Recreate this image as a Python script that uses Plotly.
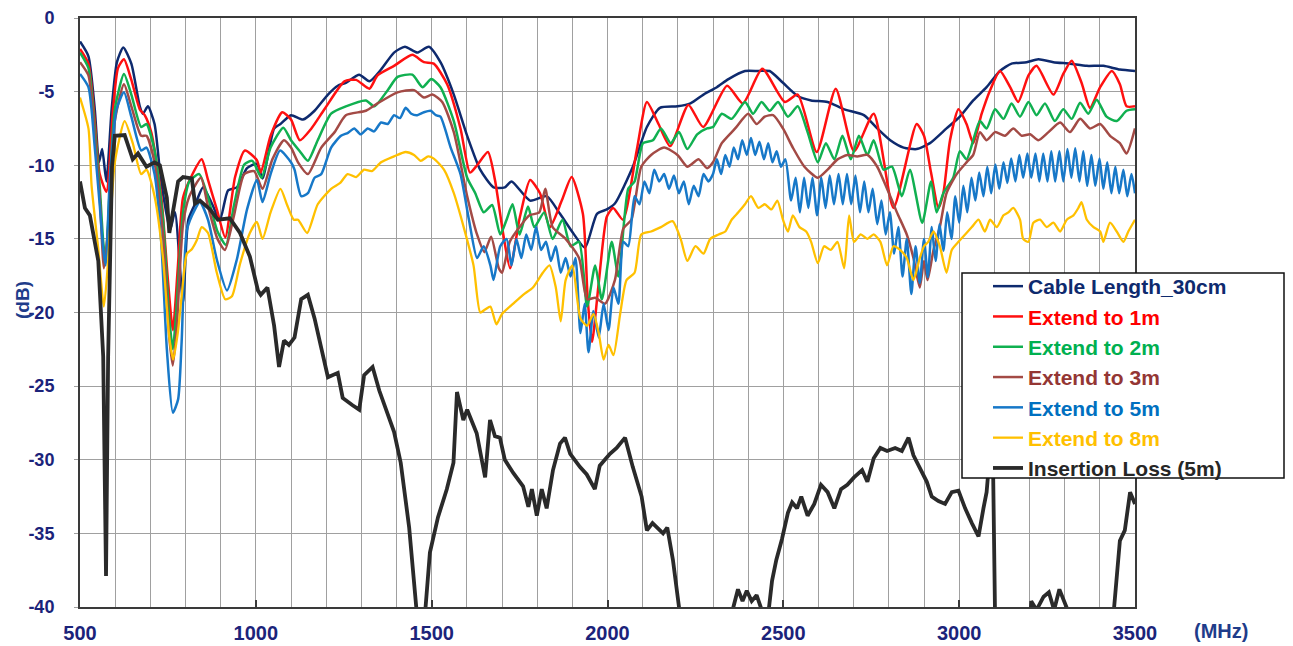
import plotly.graph_objects as go

# ---- data: (frequency MHz, level dB) ----
cable_30cm = [(500,-1.6),(524,-2.6),(542,-6.2),(554,-9.8),(563,-8.9),(575,-11.1),(590,-6.2),(605,-3.0),(623,-2.0),(646,-3.1),(670,-6.0),(679,-6.5),(693,-6.0),(712,-7.2),(726,-10.1),(736,-11.9),(756,-14.4),(770,-13.2),(793,-19.3),(808,-13.7),(832,-12.4),(850,-11.5),(875,-12.6),(898,-13.7),(921,-11.7),(946,-11.5),(975,-10.2),(1003,-9.9),(1019,-10.9),(1052,-7.5),(1070,-7.2),(1100,-6.6),(1134,-6.9),(1167,-6.3),(1205,-5.2),(1233,-4.6),(1256,-4.4),(1294,-3.85),(1323,-4.3),(1356,-3.5),(1393,-2.35),(1424,-1.95),(1459,-2.35),(1492,-1.95),(1525,-3.0),(1563,-5.2),(1601,-8.0),(1638,-10.3),(1676,-11.5),(1708,-11.5),(1727,-11.1),(1780,-12.4),(1827,-12.1),(1865,-13.3),(1902,-14.6),(1936,-15.6),(1970,-13.3),(1998,-13.0),(2021,-12.6),(2072,-10.1),(2112,-7.4),(2149,-6.1),(2199,-6.0),(2236,-5.8),(2273,-5.2),(2311,-4.7),(2344,-4.15),(2391,-3.6),(2429,-3.6),(2461,-3.6),(2499,-4.4),(2541,-5.3),(2579,-5.6),(2626,-5.7),(2673,-6.2),(2729,-6.6),(2767,-7.5),(2804,-8.3),(2842,-8.8),(2879,-8.9),(2917,-8.5),(2964,-7.5),(3002,-6.7),(3040,-5.6),(3078,-4.7),(3116,-3.6),(3149,-3.1),(3192,-3.0),(3225,-2.8),(3268,-3.0),(3315,-3.1),(3363,-3.25),(3410,-3.25),(3457,-3.5),(3500,-3.6)]

extend_1m = [(500,-2.1),(524,-3.1),(542,-7.0),(556,-10.6),(575,-11.8),(594,-6.2),(608,-3.4),(625,-2.8),(646,-4.2),(670,-6.2),(684,-6.6),(703,-7.8),(731,-12.1),(750,-17.8),(764,-21.2),(778,-17.0),(793,-12.2),(818,-10.7),(846,-9.6),(864,-11.0),(889,-13.0),(913,-14.9),(941,-10.8),(969,-9.0),(1003,-9.65),(1014,-10.5),(1042,-8.0),(1075,-6.4),(1100,-6.9),(1125,-8.3),(1158,-7.5),(1195,-6.2),(1252,-4.3),(1285,-4.2),(1323,-4.8),(1346,-3.9),(1393,-3.25),(1445,-2.5),(1478,-3.0),(1506,-3.1),(1544,-4.5),(1582,-7.5),(1609,-10.5),(1629,-10.0),(1660,-9.1),(1680,-11.0),(1703,-14.6),(1723,-17.0),(1751,-13.5),(1780,-11.0),(1808,-11.9),(1836,-14.2),(1870,-12.4),(1898,-10.8),(1930,-13.3),(1944,-19.2),(1956,-22.0),(1975,-18.0),(1998,-13.5),(2016,-12.9),(2044,-13.7),(2083,-9.0),(2112,-5.7),(2145,-7.2),(2178,-8.7),(2230,-5.9),(2272,-7.4),(2340,-4.6),(2385,-5.8),(2440,-3.45),(2504,-5.7),(2541,-5.2),(2595,-9.1),(2649,-4.8),(2701,-9.05),(2757,-6.5),(2813,-12.9),(2879,-7.2),(2900,-8.0),(2920,-10.5),(2941,-12.9),(2955,-11.9),(2974,-8.3),(2998,-6.2),(3021,-7.2),(3040,-8.5),(3064,-6.5),(3088,-4.9),(3116,-3.6),(3145,-4.7),(3168,-5.7),(3197,-3.9),(3220,-3.25),(3268,-5.2),(3296,-3.8),(3320,-2.9),(3348,-4.4),(3372,-6.1),(3401,-4.7),(3434,-3.6),(3457,-4.5),(3476,-6.0),(3500,-6.0)]

extend_2m = [(500,-2.35),(524,-3.4),(542,-7.5),(556,-11.4),(566,-15.2),(573,-16.5),(585,-11.4),(599,-6.2),(625,-3.8),(646,-5.2),(674,-7.4),(689,-7.2),(712,-9.0),(736,-13.7),(754,-20.4),(764,-22.5),(775,-19.5),(793,-13.2),(811,-11.1),(839,-10.6),(863,-12.1),(891,-14.5),(915,-15.4),(938,-12.7),(967,-9.95),(990,-9.7),(1016,-10.85),(1042,-8.8),(1078,-7.45),(1100,-8.3),(1125,-9.05),(1148,-9.7),(1176,-8.3),(1214,-6.5),(1256,-6.0),(1313,-5.6),(1337,-6.0),(1375,-4.9),(1403,-4.0),(1445,-3.85),(1474,-4.7),(1499,-4.15),(1525,-4.7),(1563,-7.0),(1601,-10.85),(1624,-11.9),(1648,-13.2),(1672,-12.7),(1695,-14.7),(1713,-13.7),(1730,-12.65),(1750,-14.7),(1774,-12.8),(1792,-14.2),(1820,-13.2),(1844,-15.0),(1872,-13.7),(1895,-15.5),(1919,-15.2),(1942,-19.6),(1965,-16.8),(1984,-19.1),(2012,-15.2),(2031,-17.55),(2059,-11.6),(2077,-11.1),(2101,-8.5),(2129,-8.3),(2152,-7.5),(2180,-8.5),(2203,-7.75),(2227,-8.9),(2255,-7.9),(2283,-7.5),(2300,-7.4),(2325,-6.5),(2353,-6.85),(2391,-5.7),(2414,-6.5),(2438,-5.7),(2461,-6.3),(2485,-5.7),(2513,-6.7),(2541,-6.0),(2569,-7.75),(2598,-9.8),(2621,-8.5),(2645,-9.6),(2668,-8.0),(2692,-9.6),(2715,-8.0),(2739,-9.3),(2757,-8.3),(2785,-10.3),(2809,-10.1),(2837,-12.1),(2860,-10.3),(2895,-13.9),(2920,-11.1),(2936,-13.2),(2955,-11.9),(2983,-10.85),(3002,-9.05),(3021,-9.6),(3040,-8.3),(3059,-7.0),(3078,-7.5),(3102,-6.2),(3126,-6.85),(3149,-5.8),(3173,-6.7),(3197,-5.7),(3220,-6.6),(3244,-5.8),(3272,-7.0),(3296,-6.2),(3320,-6.85),(3344,-5.75),(3367,-6.5),(3391,-5.55),(3419,-6.7),(3448,-7.0),(3476,-6.3),(3500,-6.2)]

extend_3m = [(500,-3.0),(524,-3.9),(542,-8.0),(556,-12.1),(568,-17.0),(580,-14.2),(599,-7.0),(625,-4.5),(646,-6.0),(674,-8.0),(689,-8.0),(712,-9.8),(736,-14.7),(754,-21.7),(764,-23.6),(775,-21.0),(793,-14.0),(811,-12.1),(844,-10.85),(863,-12.7),(891,-15.0),(912,-15.75),(938,-13.4),(967,-10.6),(995,-10.4),(1019,-11.6),(1047,-9.6),(1080,-8.3),(1100,-8.8),(1120,-9.8),(1148,-10.6),(1186,-8.8),(1224,-7.75),(1256,-6.6),(1313,-6.3),(1346,-5.8),(1403,-5.05),(1450,-4.9),(1478,-5.4),(1502,-5.2),(1530,-5.7),(1563,-7.75),(1601,-12.1),(1629,-14.7),(1650,-15.9),(1669,-14.85),(1691,-17.0),(1700,-17.3),(1722,-15.2),(1750,-14.2),(1778,-13.4),(1806,-13.2),(1823,-11.6),(1844,-14.2),(1881,-15.0),(1919,-16.3),(1942,-19.1),(1965,-19.0),(1993,-19.4),(2021,-17.8),(2045,-14.3),(2068,-13.7),(2096,-10.1),(2124,-9.3),(2161,-8.8),(2199,-9.3),(2227,-10.1),(2259,-9.6),(2283,-10.2),(2300,-9.8),(2325,-8.5),(2363,-7.5),(2400,-6.5),(2424,-7.2),(2447,-6.7),(2471,-6.6),(2499,-7.5),(2527,-8.8),(2560,-10.1),(2598,-10.85),(2626,-10.3),(2654,-9.6),(2682,-9.3),(2710,-9.4),(2739,-9.3),(2767,-10.1),(2795,-11.6),(2823,-13.2),(2851,-14.7),(2870,-16.3),(2888,-18.3),(2900,-16.5),(2910,-17.8),(2927,-15.75),(2945,-14.2),(2964,-11.9),(2993,-10.6),(3021,-9.8),(3040,-9.3),(3059,-7.75),(3078,-8.3),(3102,-7.75),(3130,-8.0),(3154,-7.5),(3178,-8.0),(3202,-7.9),(3225,-8.3),(3254,-7.75),(3287,-7.1),(3315,-7.75),(3344,-6.85),(3372,-7.5),(3401,-7.2),(3429,-8.0),(3457,-8.5),(3476,-9.2),(3500,-7.5)]

extend_5m = [(500,-3.8),(524,-4.7),(542,-8.8),(556,-12.65),(566,-15.7),(573,-16.8),(585,-10.85),(604,-6.2),(625,-5.05),(646,-6.7),(674,-9.0),(689,-8.8),(712,-10.6),(731,-15.2),(747,-22.5),(764,-26.8),(779,-25.9),(789,-22.0),(804,-14.4),(827,-13.0),(841,-12.5),(864,-13.7),(889,-16.4),(918,-18.5),(946,-16.4),(975,-13.0),(1003,-11.0),(1019,-12.5),(1042,-10.6),(1069,-9.0),(1100,-9.8),(1110,-10.3),(1129,-12.1),(1148,-11.9),(1167,-10.85),(1186,-10.6),(1214,-8.8),(1242,-8.0),(1262,-7.8),(1280,-7.5),(1298,-7.9),(1318,-7.5),(1336,-7.7),(1356,-7.1),(1375,-7.2),(1393,-6.6),(1410,-6.8),(1426,-6.1),(1442,-6.5),(1459,-6.6),(1478,-6.4),(1497,-6.3),(1512,-6.6),(1525,-6.7),(1554,-8.8),(1582,-10.6),(1606,-13.7),(1629,-16.3),(1648,-15.5),(1667,-16.8),(1676,-17.8),(1695,-15.5),(1713,-15.0),(1727,-16.8),(1741,-15.0),(1755,-16.3),(1769,-14.7),(1783,-15.75),(1797,-14.2),(1811,-15.75),(1825,-15.2),(1839,-16.5),(1853,-15.5),(1867,-17.3),(1881,-16.3),(1895,-17.55),(1909,-16.3),(1923,-21.4),(1935,-19.4),(1946,-22.7),(1960,-19.9),(1975,-21.7),(1989,-19.4),(2003,-21.2),(2017,-18.3),(2031,-19.4),(2045,-15.2),(2059,-15.5),(2077,-12.1),(2091,-12.65),(2105,-11.1),(2119,-11.9),(2133,-10.3),(2147,-11.1),(2161,-10.6),(2175,-11.6),(2189,-10.7),(2203,-11.9),(2217,-11.1),(2231,-12.65),(2245,-11.4),(2259,-12.1),(2273,-10.6),(2287,-11.1),(2300,-10.6),(2311,-9.6),(2323,-10.6),(2335,-9.3),(2347,-10.1),(2359,-8.8),(2371,-9.6),(2383,-8.3),(2396,-9.3),(2408,-8.15),(2420,-9.3),(2432,-8.4),(2445,-9.6),(2457,-8.5),(2469,-9.8),(2481,-9.05),(2493,-10.1),(2506,-9.6),(2522,-12.4),(2535,-10.85),(2547,-13.2),(2559,-10.85),(2571,-12.9),(2583,-10.85),(2596,-13.4),(2608,-10.85),(2620,-12.9),(2632,-10.7),(2644,-12.65),(2657,-10.6),(2669,-12.65),(2681,-10.6),(2693,-12.65),(2705,-10.7),(2718,-13.2),(2730,-11.1),(2742,-13.2),(2754,-11.6),(2767,-14.0),(2779,-12.4),(2791,-14.7),(2803,-13.2),(2815,-16.0),(2827,-14.2),(2839,-17.55),(2851,-15.0),(2864,-18.75),(2876,-15.5),(2888,-18.0),(2900,-15.0),(2911,-17.6),(2922,-14.2),(2933,-16.5),(2944,-14.0),(2955,-15.8),(2966,-13.2),(2978,-15.0),(2989,-12.1),(3000,-13.9),(3012,-11.4),(3023,-13.2),(3035,-10.85),(3046,-12.4),(3057,-10.5),(3069,-12.1),(3080,-10.1),(3091,-11.9),(3103,-9.95),(3114,-11.6),(3126,-9.8),(3137,-11.2),(3148,-9.55),(3160,-11.1),(3171,-9.3),(3182,-10.85),(3194,-9.2),(3205,-10.85),(3217,-9.2),(3228,-11.1),(3239,-9.2),(3251,-11.1),(3262,-9.05),(3273,-11.1),(3285,-9.05),(3296,-11.1),(3308,-8.9),(3319,-10.85),(3330,-8.85),(3342,-11.1),(3353,-9.05),(3364,-11.4),(3376,-9.3),(3387,-11.4),(3399,-9.55),(3410,-11.6),(3421,-9.8),(3433,-11.9),(3444,-10.1),(3455,-11.9),(3467,-10.3),(3478,-12.1),(3490,-10.6),(3500,-11.9)]

extend_8m = [(500,-5.4),(524,-7.5),(533,-11.4),(552,-15.7),(568,-19.6),(580,-16.5),(599,-9.8),(627,-7.0),(650,-8.5),(674,-10.6),(689,-10.3),(712,-12.1),(736,-16.3),(754,-21.7),(765,-23.2),(778,-21.4),(789,-18.9),(804,-16.0),(818,-15.7),(832,-15.1),(846,-14.2),(864,-14.6),(889,-17.3),(913,-19.1),(932,-18.9),(955,-16.7),(983,-14.6),(1003,-13.85),(1019,-15.0),(1042,-13.2),(1070,-11.6),(1089,-12.7),(1108,-13.7),(1120,-13.7),(1146,-14.6),(1176,-12.65),(1214,-11.6),(1240,-11.2),(1261,-10.6),(1285,-10.8),(1308,-10.3),(1330,-10.4),(1356,-9.8),(1393,-9.4),(1426,-9.1),(1450,-9.3),(1469,-9.7),(1490,-9.4),(1506,-9.55),(1535,-10.3),(1563,-11.9),(1591,-14.2),(1619,-16.8),(1638,-20.0),(1652,-19.8),(1667,-19.6),(1684,-20.8),(1700,-20.1),(1732,-19.4),(1760,-18.8),(1788,-18.3),(1816,-17.3),(1835,-16.8),(1853,-18.3),(1867,-20.6),(1881,-17.8),(1900,-16.8),(1923,-20.4),(1942,-20.9),(1960,-20.1),(1975,-21.4),(1989,-23.2),(2003,-22.2),(2017,-22.9),(2036,-20.1),(2054,-17.8),(2077,-17.3),(2096,-14.7),(2124,-14.5),(2152,-14.2),(2185,-13.8),(2208,-15.0),(2227,-16.5),(2250,-15.5),(2273,-16.0),(2292,-15.0),(2316,-14.7),(2335,-14.5),(2353,-13.7),(2372,-13.2),(2391,-12.65),(2408,-12.1),(2429,-12.9),(2447,-12.65),(2466,-13.0),(2483,-12.4),(2499,-13.7),(2513,-14.5),(2527,-13.4),(2546,-14.2),(2565,-14.5),(2579,-15.2),(2598,-16.65),(2616,-15.5),(2635,-15.75),(2654,-15.2),(2673,-17.0),(2687,-13.4),(2701,-15.2),(2720,-14.7),(2739,-15.0),(2757,-14.7),(2776,-15.2),(2795,-16.8),(2813,-15.5),(2832,-15.75),(2851,-16.3),(2870,-17.8),(2888,-16.3),(2900,-15.5),(2912,-15.2),(2927,-14.5),(2945,-15.5),(2964,-17.3),(2979,-15.75),(2998,-15.2),(3017,-14.7),(3036,-14.2),(3055,-13.7),(3073,-14.5),(3088,-13.7),(3107,-14.2),(3126,-13.4),(3140,-13.2),(3154,-12.9),(3173,-13.7),(3182,-15.0),(3197,-15.2),(3211,-13.9),(3230,-13.7),(3249,-14.2),(3268,-13.9),(3287,-14.5),(3306,-13.7),(3325,-13.4),(3339,-12.9),(3348,-12.5),(3363,-13.7),(3382,-14.2),(3401,-14.5),(3410,-15.2),(3429,-13.9),(3448,-14.5),(3467,-15.2),(3481,-14.5),(3500,-13.7)]

insertion_loss_5m = [(500,-11.1),(514,-12.9),(528,-13.4),(552,-16.5),(566,-23.0),(574,-37.9),(580,-23.0),(591,-10.1),(599,-8.0),(627,-7.95),(650,-9.6),(665,-9.2),(689,-10.1),(712,-9.8),(727,-10.0),(747,-12.2),(754,-14.6),(765,-13.0),(779,-11.1),(793,-10.8),(818,-10.9),(827,-12.6),(841,-12.4),(870,-13.0),(892,-13.7),(926,-13.6),(955,-14.6),(983,-16.2),(1006,-18.5),(1014,-18.8),(1033,-18.3),(1052,-20.9),(1066,-23.7),(1080,-21.9),(1094,-22.2),(1110,-21.7),(1129,-19.1),(1148,-18.8),(1167,-20.4),(1186,-22.4),(1205,-24.4),(1233,-24.1),(1247,-25.8),(1275,-26.3),(1294,-26.6),(1308,-24.25),(1332,-23.7),(1351,-25.3),(1375,-26.8),(1393,-28.1),(1412,-30.2),(1436,-34.6),(1458,-40.5),(1470,-43.0),(1481,-40.5),(1495,-36.3),(1518,-33.9),(1543,-32.0),(1562,-30.2),(1572,-25.4),(1590,-27.3),(1601,-26.6),(1628,-28.2),(1652,-31.2),(1666,-27.3),(1680,-28.4),(1694,-28.5),(1708,-30.0),(1732,-30.9),(1760,-31.8),(1775,-33.2),(1785,-32.0),(1799,-33.8),(1813,-32.0),(1827,-33.3),(1845,-30.7),(1865,-28.9),(1879,-28.5),(1894,-29.6),(1922,-30.5),(1941,-31.0),(1964,-32.0),(1978,-30.4),(2007,-29.6),(2026,-29.2),(2050,-28.5),(2072,-30.5),(2097,-32.5),(2112,-34.8),(2128,-34.3),(2158,-35.0),(2170,-34.6),(2186,-36.8),(2206,-40.5),(2240,-43.0),(2300,-44.0),(2345,-42.0),(2358,-40.0),(2371,-38.8),(2384,-39.6),(2396,-38.9),(2410,-39.6),(2424,-39.2),(2440,-40.3),(2458,-40.3),(2468,-38.2),(2480,-36.8),(2496,-35.4),(2513,-33.6),(2525,-32.9),(2539,-33.3),(2551,-32.5),(2569,-33.8),(2588,-33.0),(2607,-31.7),(2626,-32.2),(2645,-33.3),(2664,-32.0),(2682,-31.7),(2701,-31.2),(2724,-30.7),(2739,-31.5),(2757,-29.9),(2776,-29.2),(2795,-29.4),(2818,-29.2),(2837,-29.4),(2856,-28.5),(2870,-29.7),(2888,-30.6),(2908,-31.5),(2922,-32.5),(2941,-32.8),(2960,-33.0),(2979,-32.2),(2998,-32.1),(3017,-33.3),(3036,-34.3),(3055,-35.2),(3069,-33.3),(3078,-32.2),(3088,-29.4),(3095,-28.0),(3102,-40.5),(3110,-44.0),(3195,-44.0),(3205,-39.6),(3220,-40.2),(3240,-39.3),(3255,-39.0),(3270,-40.2),(3285,-38.8),(3296,-39.5),(3310,-40.3),(3330,-42.0),(3420,-42.0),(3440,-40.2),(3457,-35.5),(3471,-34.8),(3486,-32.2),(3500,-33.0)]

series_names = ["Cable Length_30cm", "Extend to 1m", "Extend to 2m", "Extend to 3m",
                "Extend to 5m", "Extend to 8m", "Insertion Loss (5m)"]
series_data = [cable_30cm, extend_1m, extend_2m, extend_3m, extend_5m, extend_8m, insertion_loss_5m]
line_colors = ["#0E2A6E", "#FF1010", "#10B050", "#A34A45", "#1778C8", "#FFC000", "#2A2A2A"]
text_colors = ["#0E2A6E", "#FF0000", "#00B050", "#943634", "#0070C0", "#FFC000", "#262626"]
line_widths = [2.5, 2.5, 2.5, 2.5, 2.5, 2.3, 3.8]

x_ticks = [500, 1000, 1500, 2000, 2500, 3000, 3500]
y_ticks = [0, -5, -10, -15, -20, -25, -30, -35, -40]

fig = go.Figure()
for i, (name, data) in enumerate(zip(series_names, series_data)):
    xs = [p[0] for p in data]
    ys = [p[1] for p in data]
    is_il = name.startswith("Insertion")
    fig.add_trace(go.Scatter(
        x=xs, y=ys, mode="lines", legendgroup=f"g{i}",
        name=f"<span style='color:{text_colors[i]}'><b>{name}</b></span>",
        line=dict(color=line_colors[i], width=line_widths[i],
                  shape="linear" if is_il else "spline",
                  smoothing=0.6 if not is_il else None),
    ))

tick_col = "#1B237A"
grid_col = "#A0A0A0"

# page body adds an 8px offset; figure is sized so the plot area lands at x 80..1135, y 18..607
fig.update_layout(
    width=1285, height=638,
    margin=dict(l=72, r=158, t=10, b=39),
    paper_bgcolor="white", plot_bgcolor="white",
    font=dict(family="Arial, Liberation Sans, sans-serif"),
    showlegend=True,
    legend=dict(
        x=(988 - 80) / 1055, y=(607 - 266) / 589, xanchor="left", yanchor="top",
        bgcolor="rgba(0,0,0,0)", borderwidth=0,
        font=dict(size=21, family="Arial, Liberation Sans, sans-serif", color="#222"),
        itemwidth=30, tracegroupgap=0, traceorder="normal",
    ),
    xaxis=dict(
        range=[500, 3500], tickvals=x_ticks, ticktext=[str(v) for v in x_ticks],
        automargin=False,
        showgrid=True, gridcolor=grid_col, gridwidth=1,
        minor=dict(dtick=100, tick0=500, showgrid=True, gridcolor=grid_col, gridwidth=1),
        showline=True, linecolor="#3A3A3A", linewidth=2, mirror=True,
        ticks="inside", ticklen=7, tickcolor="#3A3A3A", tickwidth=1.5,
        zeroline=False, ticklabelstandoff=7,
        tickfont=dict(size=20, color=tick_col, family="Arial, Liberation Sans, sans-serif", weight="bold"),
    ),
    yaxis=dict(
        range=[-40, 0], tickvals=y_ticks, ticktext=[str(v) for v in y_ticks],
        automargin=False,
        showgrid=True, gridcolor=grid_col, gridwidth=1,
        showline=True, linecolor="#3A3A3A", linewidth=2, mirror=True,
        ticks="outside", ticklen=4, tickcolor=grid_col,
        zeroline=False, ticklabelstandoff=16,
        tickfont=dict(size=18, color=tick_col, family="Arial, Liberation Sans, sans-serif", weight="bold"),
    ),
    shapes=[dict(type="rect", xref="paper", yref="paper", layer="above",
                 x0=(962 - 80) / 1055, x1=(1284 - 80) / 1055,
                 y0=(607 - 478) / 589, y1=(607 - 273) / 589,
                 fillcolor="white", line=dict(color="#111", width=1.5))],
    annotations=[
        dict(text="<b>(dB)</b>", xref="paper", yref="paper", x=(22 - 80) / 1055, y=(607 - 300) / 589,
             xanchor="center", yanchor="middle",
             textangle=-90, showarrow=False, font=dict(size=19, color="#1F3C8A")),
        dict(text="<b>(MHz)</b>", xref="paper", yref="paper", x=(1221 - 80) / 1055, y=(607 - 631) / 589,
             xanchor="center", yanchor="middle",
             showarrow=False, font=dict(size=20, color="#1F3C8A")),
    ],
)

fig.write_html("out.html")
